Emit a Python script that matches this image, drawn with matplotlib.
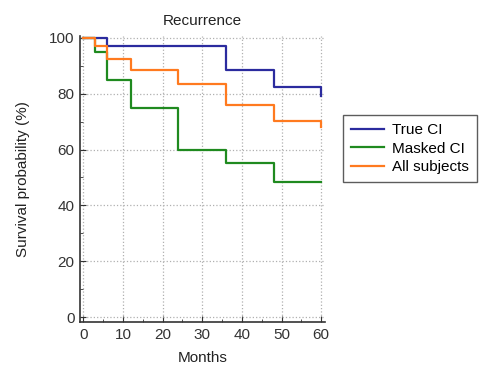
import matplotlib
matplotlib.use("Agg")
import matplotlib.pyplot as plt
from matplotlib.ticker import MultipleLocator

plt.rcParams['font.family'] = ['Liberation Sans', 'DejaVu Sans']

# step data (month, survival %)
true_t = [0, 6, 36, 48, 60]
true_s = [100, 97, 88.5, 82.5, 79]
masked_t = [0, 3, 6, 12, 24, 36, 48, 60]
masked_s = [100, 95, 85, 75, 60, 55, 48.5, 48.5]
all_t = [0, 3, 6, 12, 24, 36, 48, 60]
all_s = [100, 97, 92.5, 88.5, 83.3, 76, 70.3, 68]

labels = ['True CI', 'Masked CI', 'All subjects']
colors = ['#2b2b9e', '#1f8a1f', '#ff7a1f']

fig = plt.figure(figsize=(4.86, 3.72), dpi=100)
ax = fig.add_axes([0.165, 0.134, 0.504, 0.769])

for t, s, lab, c in zip([true_t, masked_t, all_t], [true_s, masked_s, all_s], labels, colors):
    ax.step(t, s, where='post', color=c, lw=1.6, label=lab)

ax.set_xlim(-0.8, 61)
ax.set_ylim(-1.8, 100.6)
ax.xaxis.set_major_locator(MultipleLocator(10))
ax.xaxis.set_minor_locator(MultipleLocator(5))
ax.yaxis.set_major_locator(MultipleLocator(20))
ax.yaxis.set_minor_locator(MultipleLocator(10))
ax.tick_params(which='both', direction='in', labelsize=11, colors='#333333')
ax.tick_params(which='major', length=4, pad=4)
ax.tick_params(which='minor', length=2.5)
ax.grid(True, which='major', linestyle=':', color='#b0b0b0', lw=0.9)
for side in ['top', 'right']:
    ax.spines[side].set_visible(False)
for side in ['left', 'bottom']:
    ax.spines[side].set_color('#333333')
    ax.spines[side].set_linewidth(1.2)

ax.set_title('Recurrence', fontsize=11, color='#222222', pad=8)
ax.set_xlabel('Months', fontsize=11, color='#222222', labelpad=7)
ax.set_ylabel('Survival probability (%)', fontsize=11, color='#222222', labelpad=14)

leg = ax.legend(loc='upper left', bbox_to_anchor=(0.706, 0.69), bbox_transform=fig.transFigure,
                fontsize=11, frameon=True, fancybox=False, borderpad=0.5, borderaxespad=0,
                handlelength=2.2, labelspacing=0.3, handletextpad=0.5)
leg.get_frame().set_edgecolor('#333333')
leg.get_frame().set_linewidth(1.0)

fig.savefig('out.png', dpi=100)
